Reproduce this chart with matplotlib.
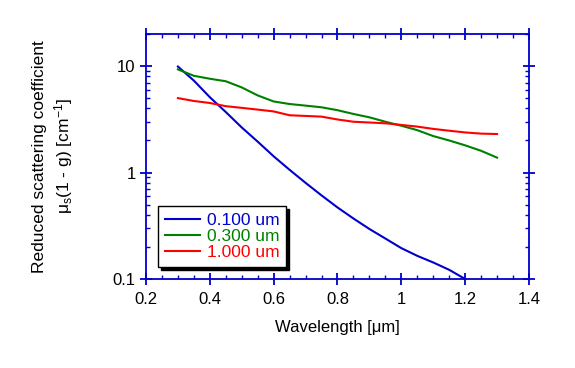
import matplotlib
matplotlib.use("Agg")
import matplotlib.pyplot as plt
from matplotlib.ticker import FixedLocator, MultipleLocator, NullFormatter

plt.rcParams['font.family'] = ['Liberation Sans', 'DejaVu Sans']
plt.rcParams['mathtext.fontset'] = 'custom'
plt.rcParams['mathtext.rm'] = 'Liberation Sans'
plt.rcParams['mathtext.it'] = 'Liberation Sans'

# wavelength grid [um]
wl = [0.30, 0.35, 0.40, 0.45, 0.50, 0.55, 0.60, 0.65, 0.70, 0.75, 0.80,
      0.85, 0.90, 0.95, 1.00, 1.05, 1.10, 1.15, 1.20, 1.25, 1.30]

# reduced scattering coefficient [1/cm] per particle size
mus_100 = [9.9, 7.3, 5.1, 3.7, 2.65, 1.95, 1.42, 1.06, 0.80, 0.61, 0.47,
           0.37, 0.295, 0.24, 0.195, 0.165, 0.143, 0.122, 0.100]
mus_300 = [9.3, 8.1, 7.6, 7.2, 6.3, 5.3, 4.65, 4.4, 4.25, 4.1, 3.85,
           3.55, 3.3, 3.0, 2.75, 2.5, 2.2, 2.0, 1.8, 1.6, 1.38]
mus_1000 = [5.0, 4.7, 4.5, 4.2, 4.05, 3.9, 3.75, 3.45, 3.4, 3.35, 3.15,
            3.0, 2.95, 2.9, 2.8, 2.7, 2.57, 2.47, 2.38, 2.32, 2.3]

labels = ['0.100 um', '0.300 um', '1.000 um']
colors = ['#0000CC', '#008000', '#FF0000']
frame_col = '#0000CC'

xticks = [0.2, 0.4, 0.6, 0.8, 1.0, 1.2, 1.4]
xticklabels = ['0.2', '0.4', '0.6', '0.8', '1', '1.2', '1.4']
yticks = [0.1, 1, 10]
yticklabels = ['0.1', '1', '10']

fig = plt.figure(figsize=(5.75, 3.68), dpi=100)
ax = fig.add_axes([0.2539, 0.2418, 0.92 - 0.2539, 0.9076 - 0.2418])

ax.plot(wl[:len(mus_100)], mus_100, color=colors[0], lw=1.5, label=labels[0])
ax.plot(wl, mus_300, color=colors[1], lw=1.5, label=labels[1])
ax.plot(wl, mus_1000, color=colors[2], lw=1.5, label=labels[2])

ax.set_yscale('log')
ax.set_xlim(0.2, 1.4)
ax.set_ylim(0.1, 20)

ax.set_xticks(xticks)
ax.set_xticklabels(xticklabels)
ax.xaxis.set_minor_locator(MultipleLocator(0.05))
ax.set_yticks(yticks)
ax.set_yticklabels(yticklabels)
minors = [m * d for d in (0.1, 1, 10) for m in range(2, 10) if m * d <= 20]
ax.yaxis.set_minor_locator(FixedLocator(minors))
ax.yaxis.set_minor_formatter(NullFormatter())

for s in ax.spines.values():
    s.set_color(frame_col)
    s.set_linewidth(1.3)

ax.tick_params(which='major', direction='inout', length=9, width=1.3,
               color=frame_col, labelsize=12, labelcolor='black',
               top=True, right=True, pad=3)
ax.tick_params(axis='x', which='major', pad=5)
ax.tick_params(which='minor', direction='in', length=3, width=1.0,
               color=frame_col, top=True, right=True)

ax.set_xlabel('Wavelength [μm]', fontsize=12, labelpad=9)
ax.set_ylabel('Reduced scattering coefficient\n'
              r'$\mathregular{μ_s}$(1 - g) [cm$\mathregular{^{-1}}$]',
              fontsize=12.5, labelpad=27, linespacing=1.3)

leg = ax.legend(loc='lower left', bbox_to_anchor=(0.032, 0.048),
                borderaxespad=0, fancybox=False, framealpha=1,
                edgecolor='black', labelcolor='linecolor',
                fontsize=12.5, handlelength=2.0, handletextpad=0.4,
                labelspacing=0.05, borderpad=0.4,
                shadow={'color': 'black', 'alpha': 1})
leg.get_frame().set_linewidth(1.0)

fig.savefig('out.png', dpi=100)
